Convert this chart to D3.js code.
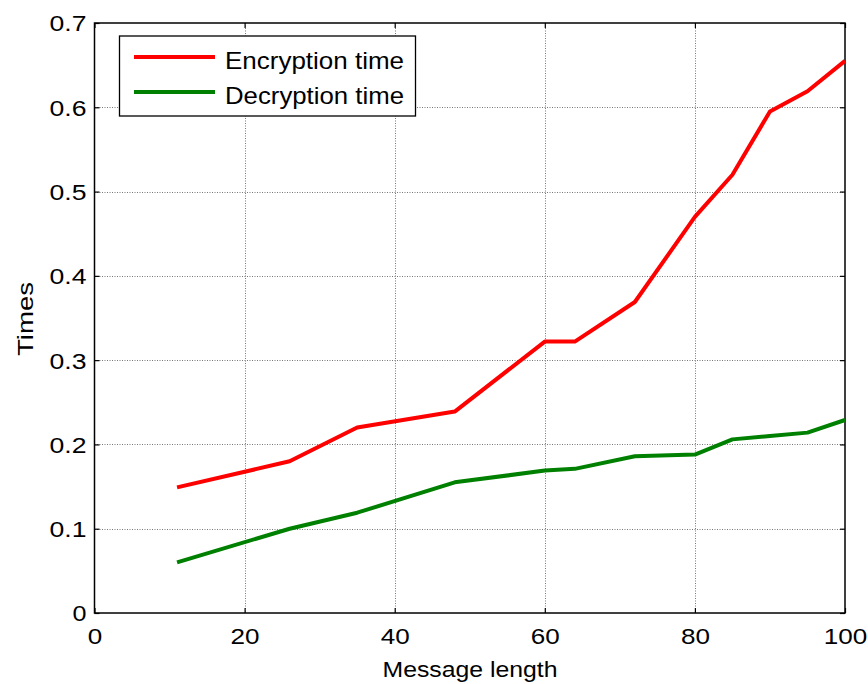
<!DOCTYPE html>
<html><head><meta charset="utf-8">
<script src="https://cdn.jsdelivr.net/npm/d3@7"></script>
<style>body{margin:0;background:#fff}svg{display:block}text{font-family:"Liberation Sans",Arial,sans-serif;fill:#000}</style>
</head><body>
<svg id="c" width="868" height="684"></svg>
<script>
const messageLength = [11, 26, 35, 48, 60, 64, 72, 80, 85, 90, 95, 100];
const encryptionTime = [0.149, 0.180, 0.220, 0.239, 0.322, 0.322, 0.369, 0.470, 0.520, 0.595, 0.619, 0.655];
const decryptionTime = [0.060, 0.100, 0.119, 0.155, 0.169, 0.171, 0.186, 0.188, 0.206, 0.210, 0.214, 0.229];
const xTicks = [0, 20, 40, 60, 80, 100];
const yTicks = [0, 0.1, 0.2, 0.3, 0.4, 0.5, 0.6, 0.7];
const seriesNames = ["Encryption time", "Decryption time"];
const seriesColors = ["#ff0000", "#008000"];
const xTitle = "Message length", yTitle = "Times";

const svg = d3.select("#c");
const L = 94.5, R = 845, T = 23, B = 613;
const x = d3.scaleLinear().domain([0, 100]).range([L, R]);
const y = d3.scaleLinear().domain([0, 0.7]).range([B, T]);

// grid
const g = svg.append("g");
g.selectAll(".gx").data(xTicks.slice(1, -1)).enter().append("line")
  .attr("x1", d => Math.round(x(d)) + 0.5).attr("x2", d => Math.round(x(d)) + 0.5).attr("y1", T).attr("y2", B)
  .attr("stroke", "#777").attr("stroke-width", 1).attr("stroke-dasharray", "1,1.5");
g.selectAll(".gy").data(yTicks.slice(1, -1)).enter().append("line")
  .attr("y1", d => Math.round(y(d)) + 0.5).attr("y2", d => Math.round(y(d)) + 0.5).attr("x1", L).attr("x2", R)
  .attr("stroke", "#777").attr("stroke-width", 1).attr("stroke-dasharray", "1,1.5");

// axes with inward ticks on all sides
const tl = 5;
const axB = svg.append("g").attr("transform", `translate(0,${B})`)
  .call(d3.axisBottom(x).tickValues(xTicks).tickSizeInner(-tl).tickSizeOuter(0).tickFormat(d3.format("d")));
const axT = svg.append("g").attr("transform", `translate(0,${T})`)
  .call(d3.axisTop(x).tickValues(xTicks).tickSizeInner(-tl).tickSizeOuter(0).tickFormat(""));
const axL = svg.append("g").attr("transform", `translate(${L},0)`)
  .call(d3.axisLeft(y).tickValues(yTicks).tickSizeInner(-tl).tickSizeOuter(0).tickFormat(d => d === 0 ? "0" : d3.format(".1f")(d)));
const axR = svg.append("g").attr("transform", `translate(${R},0)`)
  .call(d3.axisRight(y).tickValues(yTicks).tickSizeInner(-tl).tickSizeOuter(0).tickFormat(""));
[axB, axT, axL, axR].forEach(a => {
  a.select(".domain").remove();
  a.selectAll(".tick line").attr("stroke", "#000").attr("stroke-width", 1.2);
});
axB.selectAll(".tick text").attr("font-size", 22).attr("dy", 0).attr("y", 31)
  .attr("font-family", "Liberation Sans, Arial, sans-serif")
  .each(function(d){ const n = String(d).length; d3.select(this).attr("textLength", n * 14.5).attr("lengthAdjust", "spacingAndGlyphs"); });
axL.selectAll(".tick text").attr("font-size", 22).attr("dy", "0.36em").attr("x", -8)
  .attr("font-family", "Liberation Sans, Arial, sans-serif")
  .each(function(d){ d3.select(this).attr("textLength", d === 0 ? 14 : 37).attr("lengthAdjust", "spacingAndGlyphs"); });

// box
svg.append("rect").attr("x", L).attr("y", T).attr("width", R - L).attr("height", B - T)
  .attr("fill", "none").attr("stroke", "#000").attr("stroke-width", 1.5);

// lines
const line = d3.line().x((d, i) => x(messageLength[i])).y(d => y(d));
[encryptionTime, decryptionTime].forEach((s, k) => {
  svg.append("path").datum(s).attr("d", line).attr("fill", "none")
    .attr("stroke", seriesColors[k]).attr("stroke-width", 4).attr("stroke-linejoin", "round");
});

// legend
const lg = svg.append("g");
lg.append("rect").attr("x", 119.5).attr("y", 36).attr("width", 296).attr("height", 80)
  .attr("fill", "#fff").attr("stroke", "#000").attr("stroke-width", 1.3);
seriesNames.forEach((n, k) => {
  const yy = 57 + k * 35;
  lg.append("line").attr("x1", 134).attr("x2", 215).attr("y1", yy).attr("y2", yy)
    .attr("stroke", seriesColors[k]).attr("stroke-width", 4);
  lg.append("text").attr("x", 225).attr("y", yy + 12).attr("font-size", 24)
    .attr("textLength", 179).attr("lengthAdjust", "spacingAndGlyphs").text(n);
});

// titles
svg.append("text").attr("x", 470).attr("y", 677).attr("text-anchor", "middle").attr("font-size", 22)
  .attr("textLength", 175).attr("lengthAdjust", "spacingAndGlyphs").text(xTitle);
svg.append("text").attr("transform", "translate(33,319) rotate(-90)").attr("text-anchor", "middle")
  .attr("font-size", 22).attr("textLength", 74).attr("lengthAdjust", "spacingAndGlyphs").text(yTitle);
</script>
</body></html>
